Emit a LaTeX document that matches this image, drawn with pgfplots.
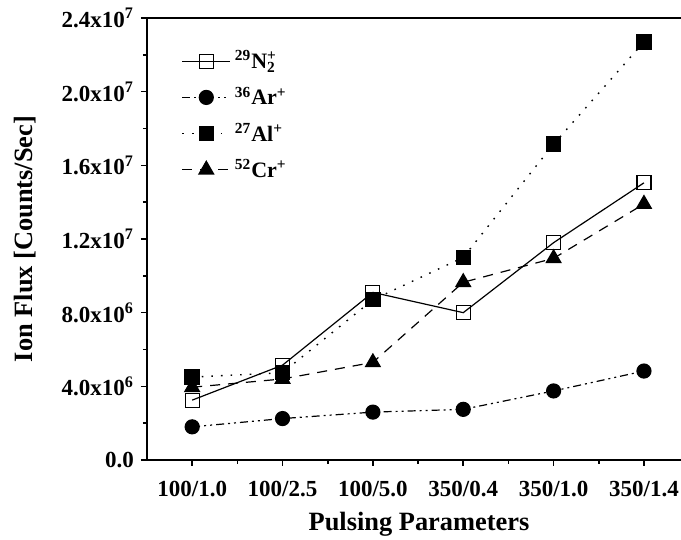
\documentclass[border=0pt]{standalone}
\usepackage{fontspec}
\setmainfont{Liberation Serif}
\usepackage{pgfplots}
\pgfplotsset{compat=1.18}
\begin{document}
\begin{tikzpicture}
\begin{axis}[
  name=ax,
  scale only axis,
  width=267pt, height=221pt,
  xmin=-0.5, xmax=5.41,
  ymin=0, ymax=24e6,
  axis x line=box, axis y line=left,
  axis line style={line width=0.9pt, -},
  xtick={0,...,5},
  xticklabels={100/1.0,100/2.5,100/5.0,350/0.4,350/1.0,350/1.4},
  xtick pos=left,
  minor x tick num=1,
  ytick={0,4e6,8e6,12e6,16e6,20e6,24e6},
  yticklabels={0.0,4.0x10\textsuperscript{6},8.0x10\textsuperscript{6},1.2x10\textsuperscript{7},1.6x10\textsuperscript{7},2.0x10\textsuperscript{7},2.4x10\textsuperscript{7}},
  minor y tick num=1,
  scaled y ticks=false,
  tick align=outside,
  major tick length=3pt,
  minor tick length=2pt,
  tick style={line width=0.8pt, black},
  tick label style={font=\bfseries\fontsize{11.5}{13}\selectfont},
  xticklabel style={yshift=-4pt},
  xlabel={Pulsing Parameters},
  ylabel={Ion Flux [Counts/Sec]},
  label style={font=\bfseries\fontsize{13.2}{15}\selectfont},
  xlabel style={at={(axis description cs:0.5,0)}, anchor=center, yshift=-32pt, xshift=2.5pt},
  ylabel style={at={(axis description cs:0,0.5)}, anchor=center, rotate=0, yshift=61pt},
  legend style={at={(0.053,0.945)}, anchor=north west, draw=none, fill=none,
    font=\bfseries\fontsize{11}{13}\selectfont, row sep=3.5pt},
  legend cell align=left,
  legend image code/.code={\draw[mark repeat=2,mark phase=2,#1] plot coordinates {(0cm,0cm)(0.42cm,0cm)(0.84cm,0cm)};},
]
\addplot[black, line width=0.6pt, mark=square, mark size=3.5pt, mark options={solid, fill=white}]
  coordinates {(0,3.25e6)(1,5.15e6)(2,9.1e6)(3,8.0e6)(4,11.8e6)(5,15.05e6)};
\addlegendentry{\textsuperscript{29}N\rlap{\textsubscript{2}}\textsuperscript{+}}
\addplot[black, line width=0.6pt, dash pattern=on 4pt off 2pt on 1pt off 2pt on 1pt off 2pt, mark=*, mark size=3.5pt, mark options={solid}]
  coordinates {(0,1.8e6)(1,2.25e6)(2,2.6e6)(3,2.75e6)(4,3.75e6)(5,4.83e6)};
\addlegendentry{\textsuperscript{36}Ar\textsuperscript{+}}
\addplot[black, line width=0.7pt, dash pattern=on 0.8pt off 4pt, mark=square*, mark size=3.5pt, mark options={solid}]
  coordinates {(0,4.5e6)(1,4.74e6)(2,8.7e6)(3,11.0e6)(4,17.15e6)(5,22.7e6)};
\addlegendentry{\textsuperscript{27}Al\textsuperscript{+}}
\addplot[black, line width=0.6pt, dash pattern=on 5pt off 4pt, mark=triangle*, mark size=4.2pt, mark options={solid}]
  coordinates {(0,3.95e6)(1,4.4e6)(2,5.3e6)(3,9.65e6)(4,10.95e6)(5,13.9e6)};
\addlegendentry{\textsuperscript{52}Cr\textsuperscript{+}}
\end{axis}
\pgfresetboundingbox
\path[use as bounding box] ([xshift=-73.5pt,yshift=-40pt]ax.south west) rectangle ([yshift=9pt]ax.north east);
\end{tikzpicture}
\end{document}
